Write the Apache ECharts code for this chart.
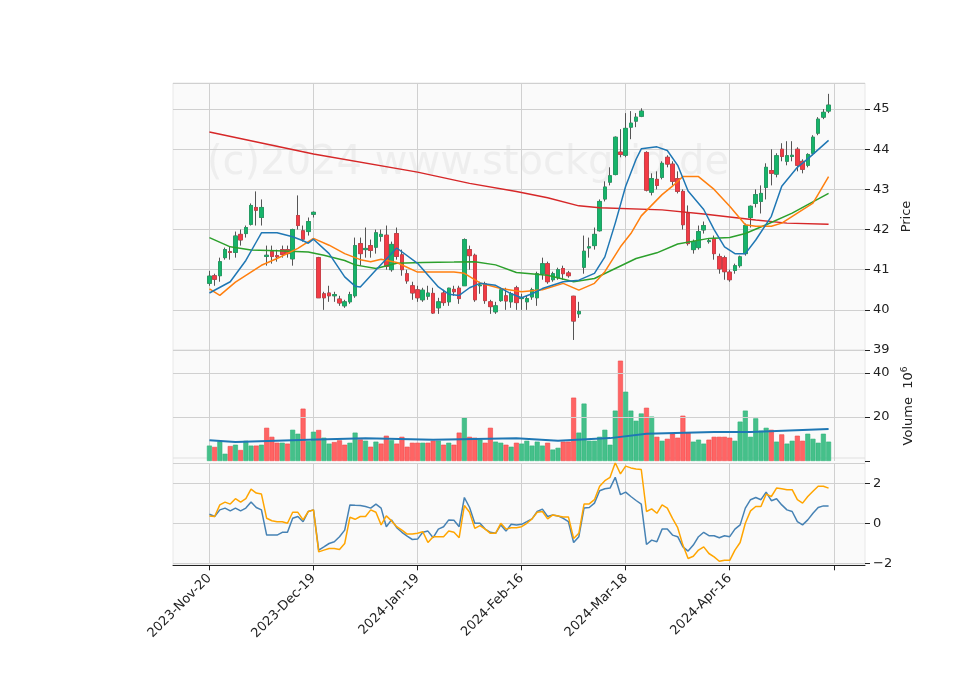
<!DOCTYPE html>
<html><head><meta charset="utf-8">
<script src="https://cdn.jsdelivr.net/npm/echarts@6/dist/echarts.min.js"></script>
<style>html,body{margin:0;padding:0;background:#fff}#c{width:960px;height:690px}</style>
</head><body><div id="c"></div>
<script>
// ---- data ----
const startDate = '2023-11-20';
const holidays = ['2023-11-23','2023-12-25','2024-01-01','2024-01-15','2024-02-19','2024-03-29'];
const nDays = 120;
// [open, close, low, high]
const ohlc = [
[40.66,40.84,40.6,40.97],[40.85,40.76,40.6,40.9],[40.85,41.2,40.7,41.3],[41.3,41.5,41.25,41.55],[41.45,41.43,41.25,41.58],
[41.43,41.84,41.3,41.95],[41.88,41.74,41.6,42.0],[41.9,42.05,41.8,42.1],[42.13,42.6,42.1,42.65],[42.55,42.48,42.1,42.95],
[42.3,42.55,42.1,42.75],[41.33,41.36,41.1,41.6],[41.45,41.33,41.15,41.6],[41.35,41.32,41.2,41.5],[41.5,41.38,41.3,41.6],
[41.5,41.4,41.3,41.6],[41.27,42.0,41.1,42.02],[42.35,42.1,42.0,42.85],[41.97,41.76,41.7,42.1],[41.95,42.2,41.85,42.3],
[42.38,42.43,42.3,42.45],[41.3,40.3,40.3,41.32],[40.4,40.3,40.0,40.45],[40.42,40.35,40.2,40.6],[40.35,40.38,40.2,40.45],
[40.27,40.17,40.1,40.35],[40.1,40.2,40.05,40.25],[40.2,40.38,40.15,40.45],[40.35,41.6,40.3,41.8],[41.65,41.4,41.1,41.8],
[41.5,41.53,41.3,42.05],[41.6,41.48,41.3,41.75],[41.56,41.92,41.4,42.0],[41.83,41.88,41.7,42.0],[41.86,41.08,41.0,42.1],
[41.0,41.63,40.95,41.7],[41.9,41.33,41.25,42.05],[41.37,41.0,40.85,41.5],[40.9,40.72,40.65,41.0],[40.6,40.42,40.25,40.7],
[40.5,40.3,40.2,40.6],[40.25,40.49,40.2,40.55],[40.34,40.42,40.25,40.6],[40.41,39.92,39.9,40.55],[40.05,40.2,39.9,40.3],
[40.42,40.18,40.1,40.5],[40.2,40.54,40.1,40.55],[40.51,40.45,40.35,40.6],[40.54,40.28,40.15,40.6],[40.6,41.75,40.6,41.78],
[41.5,41.35,41.0,41.6],[41.36,40.25,40.2,41.4],[40.6,40.62,40.4,40.7],[40.65,40.23,40.15,40.7],[40.2,40.08,39.9,40.25],
[39.95,40.1,39.9,40.2],[40.23,40.5,40.2,40.55],[40.35,40.22,40.0,40.55],[40.2,40.4,40.05,40.45],[40.55,40.18,40.0,40.6],
[40.28,40.3,40.0,40.4],[40.2,40.28,40.0,40.35],[40.32,40.5,40.25,40.55],[40.3,40.9,40.1,40.95],[40.9,41.15,40.75,41.3],
[41.15,40.7,40.65,41.2],[40.75,40.9,40.7,40.95],[40.8,41.0,40.75,41.05],[41.03,40.9,40.75,41.1],[40.92,40.85,40.8,40.97],
[40.34,39.72,39.25,40.35],[39.9,39.96,39.8,40.2],[41.06,41.46,40.9,41.85],[41.54,41.57,41.3,41.8],[41.6,41.88,41.5,42.05],
[41.97,42.7,41.95,42.75],[42.76,43.06,42.7,43.2],[43.18,43.34,43.1,43.55],[43.37,44.3,43.35,44.32],[43.93,43.87,43.8,44.5],
[43.85,44.52,43.8,44.9],[44.55,44.65,44.25,44.95],[44.7,44.8,44.55,44.9],[44.82,44.95,44.8,45.02],[43.92,42.98,42.95,43.95],
[42.93,43.27,42.85,43.4],[43.25,43.1,43.0,43.45],[43.3,43.65,43.25,43.7],[43.8,43.63,43.55,43.85],[43.63,43.2,43.1,43.7],
[43.27,42.95,42.9,43.45],[42.95,42.12,42.0,43.0],[42.4,41.65,41.6,42.6],[41.5,41.7,41.4,41.75],[41.55,41.95,41.5,42.1],
[41.99,42.1,41.9,42.2],[41.7,41.72,41.65,41.78],[41.78,41.4,41.25,41.85],[41.33,41.02,40.9,41.4],[41.3,40.95,40.75,41.35],
[40.94,40.75,40.7,41.0],[40.98,41.1,40.9,41.15],[41.1,41.32,41.05,41.35],[41.4,42.1,41.35,42.15],[42.3,42.58,42.05,42.6],
[42.65,42.87,42.55,43.0],[42.7,42.9,42.4,43.1],[43.05,43.55,42.75,43.65],[43.47,43.4,43.1,44.0],[43.38,43.84,43.3,43.9],
[44.0,43.82,43.7,44.15],[43.7,43.84,43.6,44.2],[43.82,43.85,43.7,44.2],[44.0,43.6,43.45,44.05],[43.7,43.5,43.4,43.75],
[43.6,43.87,43.55,43.9],[43.9,44.3,43.85,44.35],[44.4,44.75,44.35,44.8],[44.8,44.92,44.75,45.0],[44.95,45.1,44.9,45.38]
];
// volume in millions
const volume = [7.0,6.4,8.9,3.3,6.8,7.4,5.0,9.2,7.0,7.0,7.4,15.1,11.0,8.3,8.3,7.9,14.2,12.4,23.8,9.1,
13.3,14.1,10.6,7.9,8.6,9.4,7.4,8.3,12.9,9.8,9.2,6.5,8.8,7.9,11.5,9.5,7.9,11.0,6.5,8.3,
8.3,8.3,8.3,9.2,9.2,7.4,8.3,7.4,12.9,19.7,11.0,10.6,9.7,8.3,15.1,8.8,8.3,7.4,6.5,8.3,
7.9,9.2,7.0,8.8,7.0,8.3,5.2,6.0,8.8,8.8,28.8,12.9,26.1,9.2,9.2,11.0,14.2,7.4,22.9,45.6,
31.5,22.9,18.3,21.6,24.2,20.2,11.0,9.2,10.1,12.4,10.6,20.6,12.9,8.8,9.7,7.9,9.7,11.0,11.0,11.0,
10.6,9.2,17.9,22.9,11.0,19.4,13.8,15.1,14.2,8.8,12.1,7.9,9.2,11.5,9.2,12.4,10.1,8.3,12.4,8.8];
const volUp = [1,0,1,1,0,1,0,1,1,0,1,0,0,0,1,0,1,1,0,1,1,0,1,1,0,0,0,1,1,0,1,0,1,0,0,1,0,0,0,0,
0,1,0,0,1,0,1,0,0,1,0,0,1,0,0,1,1,0,1,0,1,1,1,1,1,0,1,1,0,0,0,1,1,1,1,1,1,1,1,0,
1,1,1,1,0,1,0,1,0,0,0,0,0,1,1,1,0,0,0,0,0,1,1,1,1,1,1,1,0,1,0,1,1,0,0,1,1,1,1,1];
const volMA = [[0,9.4],[5,8.6],[19,9.7],[30,10.3],[43,9.7],[59,10.3],[67,9.2],[77,10.4],[84,12.4],[97,13.2],[104,13.2],[119,14.6]];
// moving averages [dayIndex, value]
const maBlue = [[0,40.42],[4,40.7],[7,41.23],[9,41.69],[10,41.92],[13,41.92],[16,41.82],[18,41.72],[19,41.66],[20,41.76],[23,41.4],[26,40.82],[28,40.59],[29,40.57],
[32,40.99],[36,41.54],[40,41.16],[43.5,40.57],[46,40.39],[48,40.36],[50,40.55],[52.4,40.66],[55,40.61],[57.6,40.4],[60,40.3],[62,40.4],[64,40.53],[68,40.7],[71,40.74],
[73.6,40.91],[76,41.32],[78,42.16],[80,43.08],[82,43.75],[83,44.01],[86,44.06],[88,43.97],[90,43.6],[92,42.96],[95,42.5],[97,42.0],[99,41.57],[101,41.4],[103,41.4],
[105,41.74],[107.5,42.33],[110,43.08],[112.5,43.55],[115,43.76],[119,44.22]];
const maOrange = [[0,40.52],[2,40.36],[5,40.69],[9.5,41.11],[13.3,41.28],[16.5,41.53],[20,41.78],[23,41.61],[26,41.4],[29,41.25],[30.6,41.2],[33,41.26],[36.4,41.18],
[40,40.94],[46.7,40.94],[49,40.91],[52.4,40.67],[56,40.53],[60,40.45],[64,40.5],[68,40.66],[71,40.49],[73.6,40.66],[76,40.95],[78.5,41.57],[80.6,41.9],[83,42.34],
[87,42.87],[89,43.08],[91,43.32],[94,43.32],[97,43.0],[100,42.58],[103,42.12],[105,42.08],[107.5,42.08],[110,42.16],[112.5,42.41],[116,42.66],[119,43.32]];
const maGreen = [[0,41.8],[3.7,41.57],[8,41.49],[13,41.47],[18.5,41.44],[22,41.36],[25.5,41.23],[28,41.12],[32,41.03],[35.8,41.16],[41,41.18],[47,41.19],[51,41.2],
[55,41.12],[59,40.93],[65,40.86],[70,40.7],[74,40.78],[78,41.03],[82,41.28],[86,41.42],[90,41.64],[96,41.78],[100,41.8],[103,41.9],[107,42.12],[111.5,42.41],[115,42.62],[119,42.9]];
const maRed = [[0,44.43],[20,43.88],[40,43.43],[50,43.15],[59,42.95],[65,42.79],[71,42.59],[75,42.54],[87,42.49],[95,42.39],[105,42.24],[111,42.16],[119,42.13]];
// indicator panel
const indBlue = [0.45,0.34,0.67,0.76,0.62,0.76,0.62,0.76,1.06,0.79,0.67,-0.59,-0.59,-0.59,-0.45,-0.45,0.25,0.34,0.08,0.59,
0.67,-1.34,-1.18,-1.01,-0.92,-0.67,-0.34,0.92,0.9,0.89,0.84,0.76,0.96,0.76,-0.17,0.17,-0.22,-0.45,-0.64,-0.81,
-0.79,-0.45,-0.39,-0.72,-0.29,-0.17,0.17,0.15,-0.17,1.29,0.79,0,0,-0.29,-0.45,-0.5,-0.08,-0.39,-0.05,-0.08,
-0.05,0.08,0.22,0.59,0.71,0.34,0.42,0.37,0.25,0.08,-0.96,-0.67,0.76,0.79,1.01,1.63,1.73,1.76,2.3,1.43,
1.56,1.34,1.14,0.96,-1.06,-0.84,-0.92,-0.29,-0.29,-0.59,-0.67,-1.18,-1.39,-1.09,-0.67,-0.45,-0.62,-0.62,-0.72,-0.62,
-0.67,-0.29,-0.08,0.76,1.18,1.29,1.18,1.56,1.13,1.23,0.92,0.67,0.59,0.08,-0.08,0.17,0.5,0.79,0.87,0.87];
const indOrange = [0.37,0.34,0.92,1.06,0.96,1.23,1.06,1.23,1.71,1.51,1.46,0.25,0.13,0.08,0.08,0,0.55,0.55,0.17,0.59,
0.67,-1.43,-1.34,-1.26,-1.26,-1.31,-1.01,0.3,0.2,0.34,0.34,0.67,0.55,-0.08,0.37,0.12,-0.17,-0.34,-0.54,-0.54,
-0.5,-0.42,-0.96,-0.67,-0.67,-0.67,-0.39,-0.45,-0.72,0.89,0.55,-0.25,-0.12,-0.29,-0.5,-0.5,0,-0.29,-0.22,-0.22,
-0.17,0,0.22,0.55,0.59,0.22,0.42,0.37,0.32,0.32,-0.76,-0.5,0.96,0.97,1.18,1.85,2.13,2.3,3.03,2.47,
2.86,2.77,2.72,2.69,0.59,0.72,0.5,0.92,0.76,0.25,-0.22,-1.09,-1.76,-1.65,-1.34,-1.18,-1.51,-1.68,-1.9,-1.85,
-1.85,-1.34,-0.96,0,0.62,0.84,0.84,1.46,1.34,1.76,1.73,1.68,1.68,1.18,1.01,1.34,1.6,1.85,1.85,1.76];

// ---- build ----
const PAD = 7, TOT = nDays + 2*PAD;
const MON = ['Jan','Feb','Mar','Apr','May','Jun','Jul','Aug','Sep','Oct','Nov','Dec'];
const dates = [];
{ let d = new Date(startDate+'T12:00:00Z');
  while (dates.length < nDays) {
    const iso = d.toISOString().slice(0,10), wd = d.getUTCDay();
    if (wd!==0 && wd!==6 && !holidays.includes(iso))
      dates.push(d.getUTCFullYear()+'-'+MON[d.getUTCMonth()]+'-'+String(d.getUTCDate()).padStart(2,'0'));
    d = new Date(d.getTime()+86400000);
  } }
const cats = [];
for (let k=0;k<TOT;k++){ const i=k-PAD; cats.push(i>=0&&i<nDays?dates[i]:'_'+k); }
const tickFn = (k)=> (k-PAD)%20===0 && k-PAD>=0;
const pad = arr => { const a=new Array(TOT).fill('-'); arr.forEach((v,i)=>a[i+PAD]=v); return a; };
const sh = arr => arr.map(p=>[p[0]+PAD,p[1]]);
const candleFull = pad(ohlc);
const candleBody = pad(ohlc.map(r=>[r[0],r[1],Math.min(r[0],r[1]),Math.max(r[0],r[1])]));
const UPC='#16b46a', DNC='#f23b45', VUP='#45c08a', VDN='#ff6464';
const volData = pad(volume.map((v,i)=>({value:v,itemStyle:{color:volUp[i]?VUP:VDN,borderColor:volUp[i]?'#2fb47a':'#f04848',borderWidth:0.6}})));
const indB = pad(indBlue), indO = pad(indOrange);

const L=173, W=692, font='DejaVu Sans';
const gl = {lineStyle:{color:'#d0d0d0',width:1}};
function xAx(g,showLbl){return {type:'category',gridIndex:g,data:cats,boundaryGap:false,
  axisLine:{show:showLbl,lineStyle:{color:'#222'},onZero:false},axisTick:{show:showLbl,interval:tickFn,length:5,lineStyle:{color:'#222'}},
  axisLabel:{show:showLbl,interval:tickFn,rotate:45,fontFamily:font,fontSize:13,color:'#222',margin:11,
    formatter:v=>v.charAt(0)==='_'?'':v},
  splitLine:{show:true,interval:tickFn,lineStyle:{color:'#d0d0d0'}},offset:showLbl?2:0};}
const yBase = {position:'right',axisLine:{show:false},axisTick:{show:true,length:5,lineStyle:{color:'#222'}},
  axisLabel:{fontFamily:font,fontSize:13,color:'#222',margin:8,showMaxLabel:false}};
const line=(data,c,xi,yi,w)=>({type:'line',data,xAxisIndex:xi,yAxisIndex:yi,symbol:'none',smooth:false,
  lineStyle:{color:c,width:w||1.5},itemStyle:{color:c},silent:true,z:3,connectNulls:false});

const chart = echarts.init(document.getElementById('c'),null,{renderer:'canvas'});
chart.setOption({
  animation:false,
  graphic:[
    {type:'rect',shape:{x:L,y:83,width:W,height:482},style:{fill:'#fafafa',stroke:'#e8e8e8',lineWidth:1},z:-10,silent:true},
    {type:'line',shape:{x1:L,y1:350,x2:L+W,y2:350},style:{stroke:'#e0e0e0',lineWidth:1},z:-9},
    {type:'line',shape:{x1:L,y1:458,x2:L+W,y2:458},style:{stroke:'#e0e0e0',lineWidth:1},z:-9},
    {type:'text',left:207,top:144,style:{text:'(c)2024 www.stockgrid.de',font:'40px "DejaVu Sans"',fill:'rgba(160,160,160,0.13)'},z:-5,silent:true}
  ],
  grid:[{left:L,width:W,top:83,height:267},{left:L,width:W,top:351,height:110},{left:L,width:W,top:463.3,height:100}],
  xAxis:[xAx(0,false),xAx(1,false),xAx(2,true)],
  yAxis:[
    Object.assign({},yBase,{gridIndex:0,min:39,max:45.65,interval:1,scale:true,splitLine:gl,
      axisLabel:Object.assign({},yBase.axisLabel,{formatter:v=>Number.isInteger(v)?String(v):''}),
      name:'Price',nameLocation:'middle',nameGap:30,nameRotate:90,nameTextStyle:{fontFamily:font,fontSize:13,color:'#222'}}),
    Object.assign({},yBase,{gridIndex:1,min:0,max:50,interval:20,splitLine:{show:false},
      axisLabel:Object.assign({},yBase.axisLabel,{formatter:v=>(v===20||v===40)?String(v):''}),
      name:'Volume  10{s|6}',nameLocation:'middle',nameGap:30,nameRotate:90,
      nameTextStyle:{fontFamily:font,fontSize:13,color:'#222',rich:{s:{fontSize:9,verticalAlign:'top',padding:[0,0,8,0],fontFamily:font,color:'#222'}}}}),
    Object.assign({},yBase,{gridIndex:2,min:-2,max:3,interval:2,splitLine:gl,
      axisLabel:Object.assign({},yBase.axisLabel,{formatter:v=>(Math.abs(v)===2||v===0)?String(v).replace('-','\u2212'):''})})
  ],
  series:[
    {type:'candlestick',data:candleFull,xAxisIndex:0,yAxisIndex:0,barWidth:4,z:2,silent:true,
     itemStyle:{color:'#555',color0:'#555',borderColor:'#555',borderColor0:'#555',borderWidth:1}},
    {type:'candlestick',data:candleBody,xAxisIndex:0,yAxisIndex:0,barWidth:4,z:2,silent:true,
     itemStyle:{color:UPC,color0:DNC,borderColor:UPC,borderColor0:DNC,borderWidth:0.5}},
    line(sh(maRed),'#d62728',0,0),
    line(sh(maGreen),'#2ca02c',0,0),
    line(sh(maOrange),'#ff7f0e',0,0),
    line(sh(maBlue),'#1f77b4',0,0),
    {type:'bar',data:volData,xAxisIndex:1,yAxisIndex:1,barWidth:5,silent:true,z:2},
    Object.assign(line(sh(volMA),'#1f77b4',1,1,2),{markLine:{silent:true,symbol:'none',label:{show:false},
      lineStyle:{color:'#d0d0d0',type:'solid',width:1},data:[{yAxis:20},{yAxis:40}]},z:3}),
    line(indB,'#4682b4',2,2),
    line(indO,'#ffa500',2,2)
  ]
});
</script></body></html>
